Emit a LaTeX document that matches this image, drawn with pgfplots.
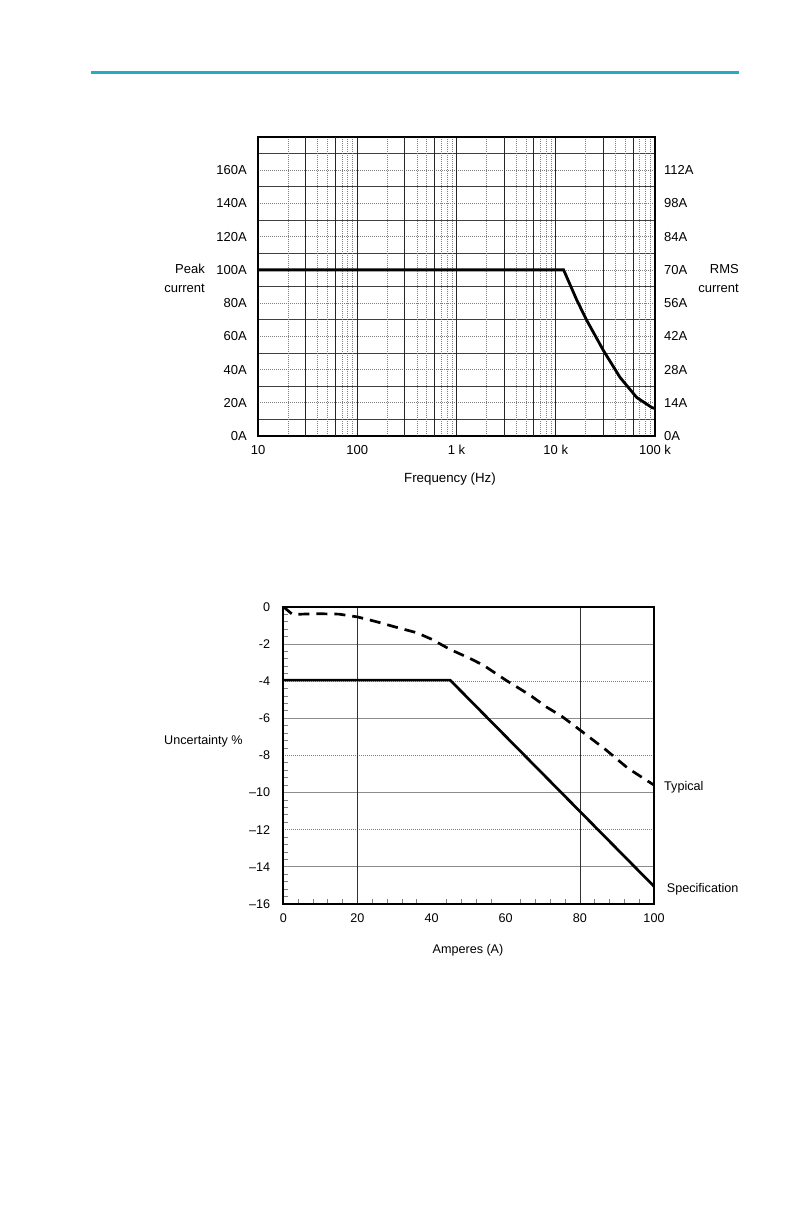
\documentclass[border=0pt]{standalone}
\usepackage{fontspec}
\setmainfont{Liberation Sans}
\usepackage{pgfplots}
\pgfplotsset{compat=1.18}
\definecolor{teal1}{RGB}{35,172,198}
\newcommand{\fa}{\fontsize{13bp}{15bp}\selectfont}
\newcommand{\fb}{\fontsize{12.6bp}{15bp}\selectfont}
\begin{document}
\fa
\begin{tikzpicture}
\useasboundingbox (0,0) rectangle (792bp,-1224bp);
\fill[white] (0,0) rectangle (792bp,-1224bp);
\draw[teal1, line width=2.8bp] (91bp,-72.5bp) -- (739bp,-72.5bp);

% ---------- chart 1: horizontal grid and right labels
\begin{axis}[at={(258bp,-436bp)}, anchor=south west, scale only axis,
  width=397bp, height=299bp,
  xmin=0, xmax=1, xtick=\empty, ymin=0, ymax=180,
  ytick={0,20,...,160}, yticklabels={0A,14A,28A,42A,56A,70A,84A,98A,112A},
  minor ytick={10,30,...,170},
  ymajorgrids, yminorgrids,
  ytick pos=right, yticklabel pos=right,
  major grid style={black!50, dash pattern=on 1bp off 1bp, line width=0.7bp},
  minor grid style={black!75, line width=0.7bp},
  major tick length=0pt, minor tick length=0pt,
  axis line style={draw=none},
  yticklabel style={anchor=west, inner sep=0pt, xshift=9bp, font=\fa}]
\end{axis}

% ---------- chart 1: main
\begin{axis}[at={(258bp,-436bp)}, anchor=south west, scale only axis,
  width=397bp, height=299bp,
  xmode=log, xmin=10, xmax=100000, ymin=0, ymax=180,
  xtick={10,100,1000,10000,100000}, xticklabels={10,100,1 k,10 k,100 k},
  minor xtick={20,40,50,70,80,90,200,400,500,700,800,900,2000,4000,5000,7000,8000,9000,20000,40000,50000,70000,80000,90000},
  extra x ticks={30,60,300,600,3000,6000,30000,60000},
  extra x tick labels={}, extra x tick style={grid=major},
  xmajorgrids, xminorgrids,
  major grid style={black!85, line width=0.7bp},
  minor grid style={black!50, dash pattern=on 1bp off 1bp, line width=0.7bp},
  ytick={0,20,...,160}, yticklabels={0A,20A,40A,60A,80A,100A,120A,140A,160A},
  ytick pos=left, xtick pos=bottom,
  major tick length=0pt, minor tick length=0pt,
  axis line style={line width=2bp},
  yticklabel style={anchor=east, inner sep=0pt, xshift=-11bp, font=\fa},
  xticklabel style={anchor=north, inner sep=0pt, yshift=-9bp, font=\fa}]
\addplot[black, line width=2.8bp] coordinates {
 (10,100) (12000,100) (16300,81.8) (20500,69.7) (30200,51.5) (44400,35.3) (65400,23.2) (92600,17.2) (100000,16.5)};
\end{axis}

% ---------- chart 2: grid
\begin{axis}[at={(283.3bp,-904bp)}, anchor=south west, scale only axis,
  width=370.7bp, height=297.3bp,
  xmin=0, xmax=100, ymin=-16, ymax=0,
  xtick=\empty, minor xtick={40,60}, xminorgrids,
  extra x ticks={20,80}, extra x tick labels={},
  extra x tick style={grid=major, major grid style={black!80, line width=0.7bp}},
  ytick={-14,-10,-6,-2}, yticklabels={}, ymajorgrids,
  minor ytick={-12,-8,-4}, yminorgrids,
  major grid style={black!45, line width=0.7bp},
  minor grid style={black!50, dash pattern=on 1bp off 1bp, line width=0.7bp},
  major tick length=0pt, minor tick length=0pt,
  axis line style={draw=none}]
\end{axis}

% ---------- chart 2: main
\begin{axis}[at={(283.3bp,-904bp)}, anchor=south west, scale only axis,
  width=370.7bp, height=297.3bp,
  xmin=0, xmax=100, ymin=-16, ymax=0,
  xtick={0,20,...,100}, xticklabels={0,20,40,60,80,100},
  ytick={-16,-14,...,0}, yticklabels={--16,--14,--12,--10,-8,-6,-4,-2,0},
  minor x tick num=4, minor y tick num=4,
  tick pos=left, tick align=inside,
  major tick length=0pt, minor tick length=5bp,
  minor tick style={black!50, line width=0.7bp},
  axis line style={line width=1.8bp},
  yticklabel style={anchor=east, inner sep=0pt, xshift=-13bp, font=\fb},
  xticklabel style={anchor=north, inner sep=0pt, yshift=-9.5bp, font=\fb}]
\addplot[black, line width=2.7bp] coordinates {(0,-3.95) (45,-3.95) (100,-15.05)};
\addplot[black, line width=2.7bp, dash pattern=on 11bp off 7bp] coordinates {
 (0,0) (2.5,-0.42) (5,-0.4) (10,-0.38) (15,-0.4) (20,-0.55) (25,-0.8) (30,-1.08) (36,-1.4) (40,-1.75) (45,-2.3) (50,-2.75) (54,-3.15) (60,-3.95) (66.5,-4.75) (71,-5.4) (75,-5.88) (80,-6.63) (87,-7.7) (93,-8.7) (100,-9.6)};
\end{axis}

% ---------- text labels
\begin{scope}[every node/.style={inner sep=0pt}]
\node[font=\fontsize{13.3bp}{15bp}\selectfont] at (450bp,-479bp) {Frequency (Hz)};
\node[anchor=base east] at (205bp,-273.7bp) {Peak};
\node[anchor=base east] at (205bp,-292.4bp) {current};
\node[anchor=base east] at (739bp,-273.7bp) {RMS};
\node[anchor=base east] at (739bp,-292.4bp) {current};
\node[anchor=west, font=\fb] at (164bp,-741bp) {Uncertainty \%};
\node[font=\fb] at (468bp,-950bp) {Amperes (A)};
\node[anchor=west, font=\fb] at (664bp,-787bp) {Typical};
\node[anchor=west, font=\fb] at (666.7bp,-889bp) {Specification};
\end{scope}
\end{tikzpicture}
\end{document}
